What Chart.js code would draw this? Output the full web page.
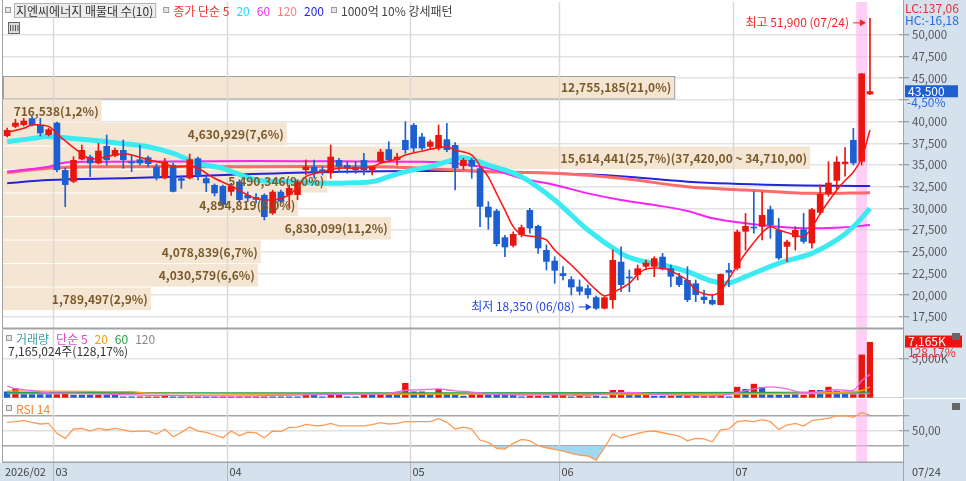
<!DOCTYPE html>
<html>
<head>
<meta charset="utf-8">
<script src="https://cdn.jsdelivr.net/npm/chart.js@4.4.1/dist/chart.umd.min.js"></script>
<style>
  body { margin: 0; background: #fff; }
  #wrap { position: relative; width: 966px; height: 481px; overflow: hidden; }
  #wrap canvas { position: absolute; left: 0; }
</style>
</head>
<body>
<div id="wrap">
  <canvas id="price" width="966" height="330" style="top:0"></canvas>
  <canvas id="volume" width="966" height="68" style="top:330px"></canvas>
  <canvas id="rsi" width="966" height="82" style="top:399px"></canvas>
</div>
<script>
// ---- data (one entry per trading day, 2026/02/20 .. 07/24) ----
const opens = [38340,39410,39610,40380,39610,38460,39880,34420,33080,35650,
  35960,35190,37190,36040,36730,35380,35650,35880,34810,33470,
  35000,33470,33470,35770,33470,32700,32580,31920,33080,31540,
  31300,31540,29430,31920,31540,31540,34420,34810,34500,34040,
  35580,35000,34810,35580,34420,35380,36810,35580,37880,39610,
  38270,37110,36920,37960,37300,34880,35580,34620,30190,29730,
  26670,25700,26930,29810,27970,25200,23970,22520,21830,20980,
  20790,19750,18450,19440,23850,22130,22320,23280,23280,24430,
  23090,22130,21750,21360,19820,19440,18860,22900,23090,27320,
  27890,27890,29890,27510,25580,26670,27590,25970,29500,31660,
  33190,35120,37880,35380,43150];
const highs = [39260,40270,40380,40650,40380,39260,39950,34650,35960,37300,
  36150,37500,38460,36960,37880,36150,37300,36040,35120,35770,
  35230,33730,36270,35920,33850,32810,32700,32900,33300,31900,
  31700,31700,32100,32120,32700,33270,35580,35580,34810,37300,
  35770,35380,35380,36350,34810,36810,37690,36350,39990,39800,
  38650,37880,39610,39800,37570,35770,35770,34810,30770,29890,
  26900,27300,28080,30000,28080,25780,24430,23280,22130,21750,
  21170,19900,19800,25200,25580,22900,23470,24050,24430,24820,
  23470,22520,23280,21750,20590,20020,22440,23670,27510,29430,
  31920,31920,30270,28860,26360,27890,29430,30000,32700,35380,
  35960,37000,39230,45550,51900];
const lows = [38230,39300,39500,39500,38340,38340,34190,30190,32960,35580,
  33650,35120,35000,35920,34620,34230,35000,34810,33270,33390,
  31890,32310,33390,33270,31920,31430,30000,31500,30700,30800,
  30600,28660,29300,30600,30040,31000,33850,33470,33850,33470,
  34230,34040,34040,33850,33850,35230,35350,35000,36350,36530,
  36730,36920,36730,36530,32120,34500,33470,27890,27590,25660,
  24430,25550,26700,27130,24820,22900,21360,21750,20020,20020,
  19640,18350,18400,18480,20400,20400,21750,22900,22130,22900,
  20970,20970,19250,19250,19060,18860,18860,20970,22900,25200,
  27130,26360,26550,24100,23850,25200,25970,25400,29300,31400,
  32120,33700,35000,35000,43100];
const closes = [39030,39880,40110,39610,38650,39110,34420,32700,35580,36730,
  35190,36650,35580,36730,35580,35190,35190,35120,33470,35380,
  31920,33190,35650,33730,32890,31730,30400,32580,30970,31160,
  31000,29010,31920,30770,32350,33080,34810,34120,34120,35960,
  34810,34620,34420,34420,34810,36530,35580,35960,36730,36920,
  36920,37690,38460,36730,34620,35580,34810,30190,28970,25890,
  25510,27050,27820,27700,25400,23850,22820,22210,20900,20400,
  20020,18450,19750,24050,21170,21940,23090,23740,24250,22980,
  22130,21170,19440,20020,19440,18940,22440,22590,27320,27970,
  27700,29240,28080,24250,26160,27510,26160,29890,31660,32960,
  35380,35380,35190,45550,43500];

// volume in thousands of shares, and bar colour (r = red, b = blue)
const volumes = [897,1281,555,555,555,555,555,854,470,470,
  470,470,470,470,256,256,256,256,256,470,
  256,256,256,256,256,256,256,256,256,256,
  256,256,256,256,256,256,470,470,256,683,
  470,256,256,470,470,683,683,470,1964,897,
  897,470,1196,683,470,342,555,555,470,470,
  470,470,256,342,342,342,470,470,256,342,
  256,342,256,1067,1067,470,470,470,342,342,
  342,342,342,342,342,342,342,256,1494,1196,
  1878,1452,470,470,470,555,470,1067,1067,1494,
  982,640,555,5594,7165];
const volDir = ['b','r','b','b','b','b','r','r','b','b',
  'b','r','b','b','b','b','r','r','r','r',
  'b','b','r','r','b','b','r','r','r','r',
  'r','r','b','b','b','b','r','b','b','r',
  'r','b','b','r','b','r','b','b','r','b',
  'b','b','r','b','b','b','r','r','b','b',
  'b','b','b','r','r','b','r','r','b','r',
  'r','b','b','r','r','b','b','r','b','b',
  'r','b','r','b','r','r','r','b','r','b',
  'r','b','b','b','b','b','r','r','b','r',
  'b','b','r','r','r'];

const rsi = [61.2,62,63.4,61,59,59.8,46.5,39.8,52.3,53.2,
  49.6,53.2,51,53.2,51,48.7,49.6,49.6,45.2,52.3,
  42,47.8,54.9,49.6,47.8,44.3,40.7,49.6,43.4,48.2,
  47,40.7,49.6,48.7,54.5,54.9,58.5,56.9,56.9,59.8,
  56.4,56.4,56.4,56.4,58,60.7,59,59.8,62.1,62.1,
  62.1,62.1,66,61.2,52.3,54.9,52.3,37.6,34.5,26.5,
  25.6,33.2,38.5,36.7,30,27.3,25.2,22.9,19.8,17.6,
  16.3,10.9,27.3,45.6,40.3,43.4,46.5,48.7,49.6,47.3,
  45.2,42.9,36.7,39.8,39,35.3,51,52.3,62.1,63.4,
  62.1,64.7,62.1,51.8,57.6,59.8,56.3,63.4,65.2,66.5,
  70,70,67.9,74,70.9];

// moving averages read at sample days: [day index, value]
const ma5Pts = [[0,38770],[2,39230],[3,39610],[5,39450],[6,38600],[8,37000],[9,36300],[10,35700],[12,35960],[14,36300],
  [16,35900],[17,35580],[19,35190],[20,34810],[22,34880],[23,34620],[25,33470],[27,32580],[29,31540],[30,31160],
  [32,30970],[34,31540],[35,32500],[36,33650],[38,34230],[40,34620],[42,34620],[44,34810],[45,35190],[47,35700],
  [48,36150],[50,36600],[51,36810],[53,37110],[54,36730],[56,36150],[57,34900],[58,33600],[59,31700],[60,29800],
  [61,27900],[62,27000],[64,26670],[65,26360],[66,25200],[68,23470],[70,21550],[71,20600],[72,19900],[73,20300],
  [75,21360],[76,22400],[77,23000],[79,23090],[80,22800],[82,21700],[83,20590],[85,20020],[86,20500],[87,21900],
  [88,23400],[89,24820],[91,27200],[92,27890],[93,27510],[95,26930],[96,26740],[97,27800],[98,29400],[100,32120],
  [101,33200],[102,34200],[103,35800],[104,39030]];
const ma20Pts = [[0,37690],[3,38070],[5,38270],[9,37960],[13,37570],[17,37110],[20,36350],[23,35190],[26,34620],[30,33270],
  [34,33100],[38,32890],[42,32950],[44,33080],[46,33650],[48,34230],[51,34810],[53,35380],[55,35850],[58,35000],
  [62,33650],[66,30970],[70,27510],[74,24820],[76,24050],[79,23470],[82,22700],[85,21600],[87,21400],[89,22130],
  [93,23670],[97,24820],[100,26360],[102,27890],[104,30000]];
const ma60Pts = [[0,34230],[3,34550],[5,34800],[7,35300],[12,35380],[20,35400],[30,35460],[40,35420],[50,35380],[54,35190],
  [58,34620],[62,33470],[66,32700],[70,31730],[74,30970],[78,30390],[82,29700],[85,28860],[89,28280],[93,27890],
  [97,27700],[101,27820],[104,28080]];
const ma120Pts = [[0,34110],[5,34620],[10,34810],[30,34810],[45,34810],[50,34620],[54,34420],[58,34230],[66,34040],[74,33470],
  [82,32500],[89,32120],[97,31730],[104,31810]];
const ma200Pts = [[0,32890],[5,33270],[15,33500],[27,33870],[40,34230],[54,34300],[66,34040],[74,33700],[82,33080],[93,32700],
  [104,32580]];
const vma5Pts = [[0,1500],[1,1200],[3,950],[5,650],[8,600],[12,480],[18,330],[25,280],[30,280],[36,400],
  [40,470],[44,500],[46,600],[48,950],[50,1050],[52,1150],[54,900],[56,750],[58,500],[62,380],
  [66,400],[70,350],[73,600],[75,700],[78,500],[82,320],[86,320],[88,700],[90,1150],[92,1400],
  [94,1150],[96,650],[98,800],[100,1050],[102,1000],[103,2200],[104,3000]];
const vma20Pts = [[0,900],[15,800],[17,600],[40,450],[56,500],[70,420],[88,500],[100,700],[103,950],[104,1400]];
const vma60Pts = [[0,700],[50,640],[104,750]];
const vma120Pts = [[0,560],[104,560]];

// volume profile (매물대), top bin first
const profileEdges = [45550,42840,40130,37420,34710,32000,29290,26580,23870,21160,18450];
const profileVol = [12755185,716538,4630929,15614441,5490346,4894819,6830099,4078839,4030579,1789497];
const profilePct = [21.0,1.2,7.6,25.7,9.0,8.0,11.2,6.7,6.6,2.9];

const priceTicks = [17500,20000,22500,25000,27500,30000,32500,35000,37500,40000,42500,45000,47500,50000];
const monthTicks = [[0,'2026/02'],[6,'03'],[27,'04'],[49,'05'],[67,'06'],[88,'07']];

// ---- layout constants ----
const N = closes.length;
const N_SLOTS = 108;
const HILITE = 103;
const AXIS_W = 67;
const BAND_NUDGE = 2.5;   // the profile boxes sit a little lower than their price edges
const RED = '#e8160f', BLUE = '#1b5fd0';
const AXIS_BG = '#d6e1ee';
const FONT = "'Noto Sans CJK KR', 'Noto Sans', sans-serif";
Chart.defaults.font.family = FONT;
Chart.defaults.font.size = 11;

const slots = Array.from({length: N_SLOTS}, (_, i) => String(i));
const sparse = pts => { const a = new Array(N).fill(null); pts.forEach(([i, v]) => a[i] = v); return a; };
const fmt = v => Math.round(v).toLocaleString('en-US');
const candleCol = opens.map((o, i) => closes[i] >= o ? RED : BLUE);

function txt(ctx, s, x, y, color, font, align) {
  ctx.fillStyle = color; ctx.font = font; ctx.textAlign = align || 'left'; ctx.textBaseline = 'middle';
  ctx.fillText(s, x, y);
}
function square(ctx, x, y) {
  ctx.fillStyle = '#9a9a9a'; ctx.fillRect(x, y - 3, 6, 6);
  ctx.fillStyle = '#e6e6e6'; ctx.fillRect(x + 1, y - 2, 4, 4);
}
// keep the right axis a fixed width and stop it from padding the plot for its labels
function fixAxis(s) {
  s.width = AXIS_W;
  s.paddingTop = 0; s.paddingBottom = 0;
}

// background, month lines, highlight column and panel borders shared by all panels
const panelDeco = {
  id: 'panelDeco',
  beforeDraw(chart) {
    const {ctx, chartArea: a, width, height} = chart;
    ctx.save();
    ctx.fillStyle = '#fff'; ctx.fillRect(0, 0, width, height);
    ctx.fillStyle = AXIS_BG; ctx.fillRect(a.right + 4, 0, width - a.right - 4, height);
    ctx.restore();
  },
  beforeDatasetsDraw(chart) {
    const {ctx, chartArea: a, scales: {x}} = chart;
    const half = (x.getPixelForValue(1) - x.getPixelForValue(0)) / 2;
    ctx.save();
    if (chart.options.drawProfile) drawProfile(chart);
    ctx.strokeStyle = '#d9d9d9'; ctx.lineWidth = 1.5;
    monthTicks.forEach(([i]) => {
      if (i === 0) return;
      const px = Math.round(x.getPixelForValue(i) - half) + 0.5;
      ctx.beginPath(); ctx.moveTo(px, a.top); ctx.lineTo(px, a.bottom); ctx.stroke();
    });
    const hx = x.getPixelForValue(HILITE);
    ctx.fillStyle = 'rgba(255,175,240,0.6)';
    ctx.fillRect(hx - 5.5, a.top, 11, a.bottom - a.top);
    ctx.restore();
  },
  afterDraw(chart) {
    const {ctx, chartArea: a, height} = chart;
    ctx.save();
    ctx.strokeStyle = '#a3a3a3'; ctx.lineWidth = 1;
    ctx.beginPath(); ctx.moveTo(2.5, 0); ctx.lineTo(2.5, a.bottom); ctx.stroke();
    ctx.beginPath(); ctx.moveTo(a.right + 4.5, 0); ctx.lineTo(a.right + 4.5, height); ctx.stroke();
    ctx.lineWidth = 2;
    ctx.beginPath(); ctx.moveTo(2, a.bottom + 0.5); ctx.lineTo(a.right + 4, a.bottom + 0.5); ctx.stroke();
    ctx.restore();
  }
};

function bandBox(chart, k) {
  const {scales: {y, xp}} = chart;
  return {
    y1: y.getPixelForValue(profileEdges[k]) + BAND_NUDGE,
    y2: y.getPixelForValue(profileEdges[k + 1]) + BAND_NUDGE,
    x2: xp.getPixelForValue(profilePct[k])
  };
}

function drawProfile(chart) {
  const {ctx, chartArea: a} = chart;
  profileVol.forEach((v, k) => {
    const {y1, y2, x2} = bandBox(chart, k);
    ctx.fillStyle = '#f5e6d3';
    ctx.fillRect(a.left, y1, x2 - a.left, y2 - y1 - 1);
    if (k === 0) {
      ctx.strokeStyle = '#9c9c9c'; ctx.lineWidth = 1;
      ctx.strokeRect(a.left + 0.5, y1 + 0.5, x2 - a.left, y2 - y1 - 1);
    }
  });
}

function profileLabels(chart) {
  const {ctx, chartArea: a} = chart;
  const maxK = profilePct.indexOf(Math.max(...profilePct));
  ctx.font = 'bold 12px ' + FONT;
  profileVol.forEach((v, k) => {
    const {y1, y2, x2} = bandBox(chart, k);
    let s = fmt(v) + '(' + profilePct[k].toFixed(1).replace('.', ',') + '%)';
    if (k === maxK) s += '(' + fmt(profileEdges[k]) + ',00 ~ ' + fmt(profileEdges[k + 1]) + ',00)';
    const w = ctx.measureText(s).width;
    const tx = Math.max(a.left + 2, x2 - 3 - w);
    txt(ctx, s, tx, (y1 + y2) / 2, '#7a5a2c', 'bold 12px ' + FONT);
  });
}

function arrow(ctx, x1, x2, y, color) {
  ctx.strokeStyle = color; ctx.fillStyle = color; ctx.lineWidth = 1;
  ctx.beginPath(); ctx.moveTo(x1, y + 0.5); ctx.lineTo(x2 - 4, y + 0.5); ctx.stroke();
  ctx.beginPath(); ctx.moveTo(x2, y + 0.5); ctx.lineTo(x2 - 6, y - 3); ctx.lineTo(x2 - 6, y + 4); ctx.closePath(); ctx.fill();
}

const priceDeco = {
  id: 'priceDeco',
  afterDatasetsDraw(chart) {
    const {ctx, scales: {x, y}} = chart;
    ctx.save();
    profileLabels(chart);
    // highest / lowest markers
    const hi = highs.indexOf(Math.max(...highs));
    const lo = lows.indexOf(Math.min(...lows));
    const hx = x.getPixelForValue(hi) - 4, hy = y.getPixelForValue(highs[hi]) + 4;
    arrow(ctx, hx - 13, hx, hy, '#f02828');
    txt(ctx, '최고 ' + fmt(highs[hi]) + ' (07/24)', hx - 17, hy, '#f02828', '12px ' + FONT, 'right');
    const lx = x.getPixelForValue(lo) - 4.5, ly = y.getPixelForValue(lows[lo]) - 3;
    arrow(ctx, lx - 13, lx, ly, '#2448e0');
    txt(ctx, '최저 ' + fmt(lows[lo]) + ' (06/08)', lx - 17, ly, '#2448e0', '12px ' + FONT, 'right');
    ctx.restore();
  },
  afterDraw(chart) {
    const {ctx, chartArea: a, scales: {y}} = chart;
    ctx.save();
    // header line
    let hx = 5;
    square(ctx, hx, 10); hx += 9;
    ctx.font = '12px ' + FONT;
    const title = '지엔씨에너지 매물대 수(10)';
    const tw = ctx.measureText(title).width;
    ctx.fillStyle = '#ececec'; ctx.fillRect(hx, 3, tw + 5, 15);
    ctx.strokeStyle = '#b4b4b4'; ctx.lineWidth = 1; ctx.strokeRect(hx + 0.5, 3.5, tw + 4, 14);
    txt(ctx, title, hx + 2, 11, '#333', '12px ' + FONT);
    hx += tw + 12;
    square(ctx, hx, 10); hx += 10;
    [['종가 단순 5', '#f03030'], ['20', '#22dcef'], ['60', '#f030f0'], ['120', '#ff7a7a'], ['200', '#2626e8']].forEach(([s, c]) => {
      txt(ctx, s, hx, 11, c, '12px ' + FONT);
      hx += ctx.measureText(s).width + 7;
    });
    square(ctx, hx, 10); hx += 10;
    txt(ctx, '1000억 10% 강세패턴', hx, 11, '#444', '12px ' + FONT);
    // small grid icon
    ctx.strokeStyle = '#666'; ctx.strokeRect(8.5, 22.5, 11, 11);
    ctx.fillStyle = '#ddd'; ctx.fillRect(9, 23, 10, 10);
    ctx.strokeStyle = '#555';
    for (let k = 0; k < 4; k++) { ctx.beginPath(); ctx.moveTo(10.5 + k * 2.5, 25); ctx.lineTo(10.5 + k * 2.5, 31); ctx.stroke(); }
    // right side labels
    const rx = a.right + 6;
    txt(ctx, 'LC:137,06', rx, 8, '#e23232', '12px ' + FONT);
    txt(ctx, 'HC:-16,18', rx, 20, '#2a6ae0', '12px ' + FONT);
    const last = closes[N - 1];
    const ly = y.getPixelForValue(last);
    ctx.fillStyle = '#1f5fcf'; ctx.fillRect(rx, ly - 6, 53, 12);
    txt(ctx, fmt(last), rx + 3, ly, '#fff', '12px ' + FONT);
    const chg = (last / closes[N - 2] - 1) * 100;
    txt(ctx, chg.toFixed(2).replace('.', ',') + '%', rx + 2, ly + 11, '#2a6ae0', '12px ' + FONT);
    ctx.restore();
  }
};

const volDeco = {
  id: 'volDeco',
  afterDraw(chart) {
    const {ctx, chartArea: a, scales: {yv}} = chart;
    ctx.save();
    square(ctx, 6, 8);
    let hx = 16;
    [['거래량', '#3a9ea6'], ['단순 5', '#e040e0'], ['20', '#f0a010'], ['60', '#23a047'], ['120', '#888']].forEach(([s, c]) => {
      txt(ctx, s, hx, 9, c, '12px ' + FONT);
      hx += ctx.measureText(s).width + 7;
    });
    txt(ctx, '7,165,024주(128,17%)', 8, 21, '#333', '12px ' + FONT);
    const rx = a.right + 6;
    const v = volumes[N - 1];
    const vy = yv.getPixelForValue(v);
    ctx.fillStyle = '#e8160f'; ctx.fillRect(rx, vy - 6, 57, 12);
    txt(ctx, fmt(v) + 'K', rx + 3, vy, '#fff', '12px ' + FONT);
    txt(ctx, '128,17%', rx + 3, vy + 11, '#e83030', '12px ' + FONT);
    ctx.fillStyle = '#666'; ctx.fillRect(952, 3, 8, 7);
    ctx.restore();
  }
};

const rsiDeco = {
  id: 'rsiDeco',
  afterDraw(chart) {
    const {ctx, chartArea: a, scales: {x}, width, height} = chart;
    const half = (x.getPixelForValue(1) - x.getPixelForValue(0)) / 2;
    ctx.save();
    square(ctx, 6, 9);
    txt(ctx, 'RSI 14', 16, 10, '#ff7f35', '12px ' + FONT);
    ctx.fillStyle = '#666'; ctx.fillRect(952, 4, 8, 7);
    // date axis strip
    const y0 = a.bottom + 1;
    ctx.fillStyle = AXIS_BG; ctx.fillRect(0, y0, width, height - y0);
    ctx.strokeStyle = '#a3a3a3'; ctx.lineWidth = 1;
    ctx.beginPath(); ctx.moveTo(a.right + 4.5, y0); ctx.lineTo(a.right + 4.5, height); ctx.stroke();
    monthTicks.forEach(([i, lab]) => {
      const px = i === 0 ? a.left : Math.round(x.getPixelForValue(i) - half) + 0.5;
      if (i !== 0) { ctx.strokeStyle = '#b8b8b8'; ctx.beginPath(); ctx.moveTo(px, y0); ctx.lineTo(px, height); ctx.stroke(); }
      txt(ctx, lab, px + 2, y0 + 9, '#444', '11px ' + FONT);
    });
    txt(ctx, '07/24', a.right + 13, y0 + 9, '#444', '11px ' + FONT);
    ctx.restore();
  }
};

const xCat = { type: 'category', offset: true, display: false };
const baseOpts = {
  responsive: false, animation: false, events: [],
  plugins: { legend: { display: false }, tooltip: { enabled: false } }
};
const maLine = (pts, color, w, order, axis) => ({
  type: 'line', data: sparse(pts), borderColor: color, borderWidth: w, pointRadius: 0,
  spanGaps: true, tension: 0.35, order: order, yAxisID: axis || 'y'
});

// ---- price panel ----
new Chart(document.getElementById('price'), {
  type: 'bar',
  data: {
    labels: slots,
    datasets: [
      maLine(ma5Pts, '#ff1414', 1.5, 1),
      { type: 'bar', data: opens.map((o, i) => [o, closes[i]]), backgroundColor: candleCol, borderWidth: 0,
        barPercentage: 0.8, categoryPercentage: 1, grouped: false, minBarLength: 1.5, order: 2 },
      { type: 'bar', data: lows.map((l, i) => [l, highs[i]]), backgroundColor: candleCol, borderWidth: 0,
        barThickness: 1, grouped: false, order: 3 },
      maLine(ma20Pts, '#3ceaf2', 5, 4),
      maLine(ma60Pts, '#f424f4', 2, 5),
      maLine(ma120Pts, '#ff6a6a', 3, 6),
      maLine(ma200Pts, '#2424e0', 2, 7)
    ]
  },
  options: Object.assign({}, baseOpts, {
    drawProfile: true,
    layout: { padding: { left: 3, right: 0, top: 2, bottom: 2 } },
    scales: {
      x: xCat,
      xp: { type: 'linear', display: false, min: 0, max: 26.56 },
      y: {
        position: 'right', min: 16213, max: 53787,
        afterFit: fixAxis,
        afterBuildTicks(s) { s.ticks = priceTicks.map(v => ({ value: v })); },
        // the tick next to the last-price box is covered by it, as on the original
        ticks: { callback: v => Math.abs(v - closes[N - 1]) < 1500 ? '' : fmt(v), color: '#555', padding: 3, font: { size: 11.5 } },
        grid: { color: '#e3e3e3', lineWidth: 1.5, tickLength: 10, tickColor: '#8a8a8a', tickWidth: 1 },
        border: { display: false }
      }
    }
  }),
  plugins: [panelDeco, priceDeco]
});

// ---- volume panel ----
new Chart(document.getElementById('volume'), {
  type: 'bar',
  data: {
    labels: slots,
    datasets: [
      { type: 'bar', data: volumes, backgroundColor: volDir.map(d => d === 'r' ? RED : BLUE),
        borderColor: '#ffffff', borderWidth: { left: 0, right: 0, top: 0.5, bottom: 0 },
        barPercentage: 0.8, categoryPercentage: 1, order: 5, yAxisID: 'yv' },
      maLine(vma5Pts, '#ee66ee', 1.3, 1, 'yv'),
      maLine(vma20Pts, '#f2a21a', 1.3, 2, 'yv'),
      maLine(vma60Pts, '#2a9e4a', 1.3, 3, 'yv'),
      maLine(vma120Pts, '#9a9a9a', 1.3, 4, 'yv')
    ]
  },
  options: Object.assign({}, baseOpts, {
    layout: { padding: { left: 3, right: 0, top: 0, bottom: 0 } },
    scales: {
      x: xCat,
      yv: {
        position: 'right', min: 0, max: 8630,
        afterFit: fixAxis,
        afterBuildTicks(s) { s.ticks = [{ value: 5000 }]; },
        ticks: { callback: v => fmt(v) + 'K', color: '#555', padding: 3, font: { size: 11.5 } },
        grid: { color: '#e3e3e3', lineWidth: 1.5, tickLength: 10, tickColor: '#8a8a8a', tickWidth: 1 },
        border: { display: false }
      }
    }
  }),
  plugins: [panelDeco, volDeco]
});

// ---- RSI panel ----
new Chart(document.getElementById('rsi'), {
  type: 'line',
  data: {
    labels: slots,
    datasets: [{
      data: rsi, borderColor: '#ff9a52', borderWidth: 1.3, pointRadius: 0, tension: 0, yAxisID: 'yr',
      fill: { target: { value: 30 }, above: 'rgba(0,0,0,0)', below: '#9fd9f1' }
    }]
  },
  options: Object.assign({}, baseOpts, {
    layout: { padding: { left: 3, right: 0, top: 0, bottom: 19 } },
    scales: {
      x: xCat,
      yr: {
        position: 'right', min: 8.3, max: 92.3,
        afterFit: fixAxis,
        afterBuildTicks(s) { s.ticks = [30, 50, 70].map(v => ({ value: v })); },
        ticks: { callback: v => v === 50 ? '50,00' : '', color: '#555', padding: 3, font: { size: 11.5 } },
        grid: { color: c => c.tick && c.tick.value === 50 ? '#e0e0e0' : '#a6a6a6', lineWidth: 1.5,
                tickLength: 10, tickColor: '#8a8a8a', tickWidth: 1 },
        border: { display: false }
      }
    }
  }),
  plugins: [panelDeco, rsiDeco]
});
</script>
</body>
</html>
